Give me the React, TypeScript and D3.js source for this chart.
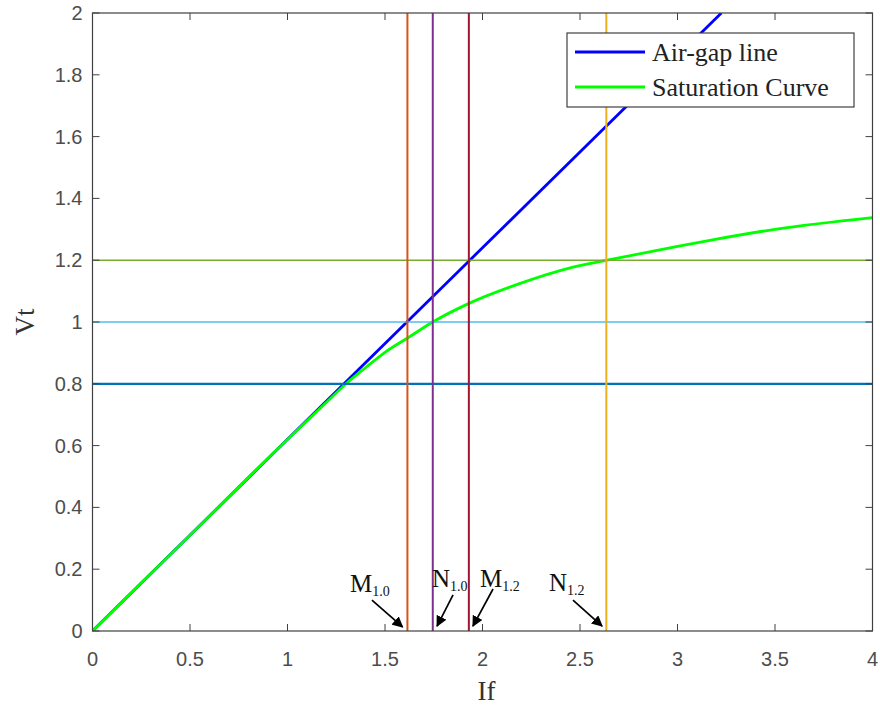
import React from "react";
import * as d3 from "d3";

// chart data
const airGapIf = [0, 3.225];
const airGapVt = [0, 2];

const satIf = [0, 0.5, 1.0, 1.1, 1.2, 1.3, 1.4, 1.5, 1.62, 1.745, 1.92, 2.19, 2.45, 2.64, 3.0, 3.18, 3.5, 4.0];
const satVt = [0, 0.31, 0.62, 0.68, 0.74, 0.8, 0.852, 0.902, 0.95, 1.0, 1.057, 1.124, 1.175, 1.2, 1.245, 1.266, 1.3, 1.338];

const hLineVt = [0.8, 1.0, 1.2];
const hLineColors = ["#0072BD", "#4DBEEE", "#77AC30"];

const vLineIf = [1.615, 1.745, 1.93, 2.635];
const vLineColors = ["#D95319", "#7E2F8E", "#A2142F", "#EDB120"];

const markNames = ["M", "N", "M", "N"];
const markSubs = ["1.0", "1.0", "1.2", "1.2"];
const markTextIf = [1.321, 1.741, 1.987, 2.341];
const markTextVt = [0.126, 0.142, 0.142, 0.129];
const arrowFromIf = [1.433, 1.849, 2.054, 2.464];
const arrowFromVt = [0.1, 0.117, 0.136, 0.1];
const arrowToIf = [1.59, 1.767, 1.951, 2.613];
const arrowToVt = [0.013, 0.016, 0.016, 0.016];

const xTicks = [0, 0.5, 1, 1.5, 2, 2.5, 3, 3.5, 4];
const yTicks = [0, 0.2, 0.4, 0.6, 0.8, 1, 1.2, 1.4, 1.6, 1.8, 2];

const legendLabels = ["Air-gap line", "Saturation Curve"];
const legendColors = ["#0000FF", "#00FF00"];

const W = 880;
const H = 707;
const margin = { top: 13, right: 7.5, bottom: 76, left: 92.5 };
const serif = "'Liberation Serif', 'Times New Roman', serif";
const sans = "'Liberation Sans', Arial, sans-serif";
const axisColor = "#404040";

export default function App() {
  const x = d3.scaleLinear().domain([0, 4]).range([margin.left, W - margin.right]);
  const y = d3.scaleLinear().domain([0, 2]).range([H - margin.bottom, margin.top]);
  const [x0, x1] = x.range();
  const [y0, y1] = y.range();

  const line = d3.line<[number, number]>().x((d) => x(d[0])).y((d) => y(d[1]));
  const curve = d3
    .line<[number, number]>()
    .x((d) => x(d[0]))
    .y((d) => y(d[1]))
    .curve(d3.curveMonotoneX);

  const airGap = airGapIf.map((v, i) => [v, airGapVt[i]] as [number, number]);
  const sat = satIf.map((v, i) => [v, satVt[i]] as [number, number]);

  const tickLen = 7;
  const lx0 = 567;
  const ly0 = 33;

  return (
    <svg width={W} height={H} style={{ position: "absolute", left: 0, top: 0, background: "#fff" }}>
      <defs>
        <clipPath id="plot">
          <rect x={x0} y={y1} width={x1 - x0} height={y0 - y1} />
        </clipPath>
        <marker id="arrow" viewBox="0 0 10 10" refX="9" refY="5" markerWidth="11" markerHeight="11" markerUnits="userSpaceOnUse" orient="auto">
          <path d="M0,0 L10,5 L0,10 z" fill="#000" />
        </marker>
      </defs>
      <rect x={0} y={0} width={W} height={H} fill="#fff" />

      <g clipPath="url(#plot)">
        <path d={line(airGap) ?? ""} fill="none" stroke="#0000FF" strokeWidth={2.8} />
        <path d={curve(sat) ?? ""} fill="none" stroke="#00FF00" strokeWidth={2.8} />
        {hLineVt.map((v, i) => (
          <line key={"h" + i} x1={x0} x2={x1} y1={y(v)} y2={y(v)} stroke={hLineColors[i]} strokeWidth={i === 0 ? 2.2 : 1.6} />
        ))}
        {vLineIf.map((v, i) => (
          <line key={"v" + i} x1={x(v)} x2={x(v)} y1={y0} y2={y1} stroke={vLineColors[i]} strokeWidth={2} />
        ))}
      </g>

      {/* annotations */}
      {markNames.map((m, i) => (
        <g key={"m" + i}>
          <text x={x(markTextIf[i])} y={y(markTextVt[i])} fontFamily={serif} fontSize={25} fill="#111">
            {m}
            <tspan fontSize={14} dy={4}>{markSubs[i]}</tspan>
          </text>
          <line
            x1={x(arrowFromIf[i])}
            y1={y(arrowFromVt[i])}
            x2={x(arrowToIf[i])}
            y2={y(arrowToVt[i])}
            stroke="#000"
            strokeWidth={1.7}
            markerEnd="url(#arrow)"
          />
        </g>
      ))}

      {/* axes box */}
      <rect x={x0} y={y1} width={x1 - x0} height={y0 - y1} fill="none" stroke={axisColor} strokeWidth={1.2} />
      {xTicks.map((t) => (
        <g key={"xt" + t}>
          <line x1={x(t)} x2={x(t)} y1={y0} y2={y0 - tickLen} stroke={axisColor} />
          <line x1={x(t)} x2={x(t)} y1={y1} y2={y1 + tickLen} stroke={axisColor} />
          <text x={x(t)} y={y0 + 35} textAnchor="middle" fontFamily={sans} fontSize={20} fill="#4d4d4d">
            {t}
          </text>
        </g>
      ))}
      {yTicks.map((t) => (
        <g key={"yt" + t}>
          <line x1={x0} x2={x0 + tickLen} y1={y(t)} y2={y(t)} stroke={axisColor} />
          <line x1={x1} x2={x1 - tickLen} y1={y(t)} y2={y(t)} stroke={axisColor} />
          <text x={x0 - 10} y={y(t) + 7} textAnchor="end" fontFamily={sans} fontSize={20} fill="#4d4d4d">
            {t}
          </text>
        </g>
      ))}

      {/* axis titles */}
      <text x={(x0 + x1) / 2 + 4} y={700} textAnchor="middle" fontFamily={serif} fontSize={27} fill="#333">
        If
      </text>
      <text transform={`translate(34, ${(y0 + y1) / 2}) rotate(-90)`} textAnchor="middle" fontFamily={serif} fontSize={27} fill="#333">
        Vt
      </text>

      {/* legend */}
      <rect x={lx0} y={ly0} width={287} height={74} fill="#fff" stroke={axisColor} strokeWidth={1.2} />
      {legendLabels.map((l, i) => (
        <g key={"lg" + i}>
          <line x1={lx0 + 8} x2={lx0 + 78} y1={ly0 + 19 + i * 35} y2={ly0 + 19 + i * 35} stroke={legendColors[i]} strokeWidth={3} />
          <text x={lx0 + 85} y={ly0 + 28 + i * 35} fontFamily={serif} fontSize={26} fill="#222">
            {l}
          </text>
        </g>
      ))}
    </svg>
  );
}
